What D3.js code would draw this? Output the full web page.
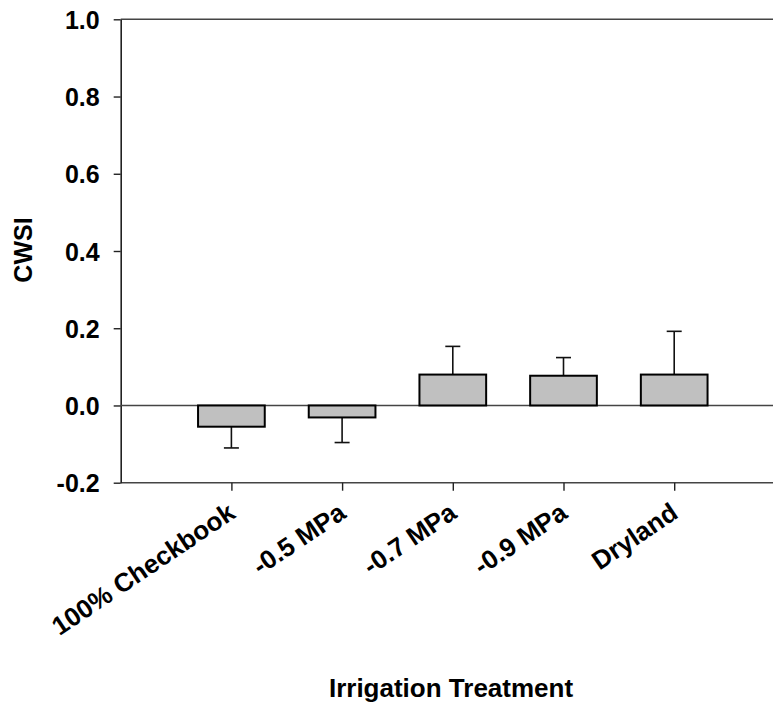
<!DOCTYPE html>
<html>
<head>
<meta charset="utf-8">
<script src="https://cdn.jsdelivr.net/npm/d3@7"></script>
<style>
  body { margin: 0; background: #fff; }
  text { font-family: "Liberation Sans", Arial, sans-serif; font-weight: bold; fill: #000; }
</style>
</head>
<body>
<script>
// CWSI by irrigation treatment
var categories = ['100% Checkbook', '-0.5 MPa', '-0.7 MPa', '-0.9 MPa', 'Dryland'];
var cwsi = [-0.055, -0.031, 0.080, 0.077, 0.080];
var stdErr = [0.055, 0.065, 0.073, 0.047, 0.112];
var yTicks = [-0.2, 0.0, 0.2, 0.4, 0.6, 0.8, 1.0];

var chartProps = {
  width: 773,
  height: 704,
  left: 120.7,
  top: 19.3,
  bottom: 482.7,
  step: 110.7
};

var svg = d3.select('body').append('svg')
            .attr('width', chartProps.width)
            .attr('height', chartProps.height);

var y = d3.scaleLinear().domain([-0.2, 1.0]).range([chartProps.bottom, chartProps.top]);
var x = d3.scalePoint().domain(categories)
          .range([chartProps.left + chartProps.step, chartProps.left + 5 * chartProps.step]);

var barWidth = 66.7;
var capWidth = 15;

// plain hyphen minus like the original
var fmt = function(d) { return d.toFixed(1); };

// frame lines (top + bottom)
svg.append('line')
   .attr('x1', chartProps.left).attr('x2', chartProps.width)
   .attr('y1', chartProps.top).attr('y2', chartProps.top)
   .attr('stroke', '#444').attr('stroke-width', 1.6);

svg.append('line')
   .attr('x1', chartProps.left).attr('x2', chartProps.width)
   .attr('y1', chartProps.bottom).attr('y2', chartProps.bottom)
   .attr('stroke', '#444').attr('stroke-width', 1.6);

var yAxis = svg.append('g')
   .attr('transform', 'translate(' + chartProps.left + ',0)')
   .call(d3.axisLeft(y).tickValues(yTicks).tickFormat(fmt).tickSize(7).tickSizeOuter(0).tickPadding(14));
yAxis.select('.domain').attr('stroke', '#222').attr('stroke-width', 1.6);
yAxis.selectAll('line').attr('stroke', '#222').attr('stroke-width', 1.4);
yAxis.selectAll('text').style('font-size', '25px').attr('dy', '0.36em');

var xAxis = svg.append('g')
   .attr('transform', 'translate(0,' + chartProps.bottom + ')')
   .call(d3.axisBottom(x).tickSize(8).tickSizeOuter(0));
xAxis.select('.domain').remove();
xAxis.selectAll('line').attr('stroke', '#222').attr('stroke-width', 1.4);
xAxis.selectAll('text')
     .style('font-size', '26px')
     .attr('text-anchor', 'end')
     .attr('y', 0).attr('dy', 0)
     .attr('transform', 'translate(5,34) rotate(-34)');

// zero line
svg.append('line')
   .attr('x1', chartProps.left).attr('x2', chartProps.width)
   .attr('y1', y(0)).attr('y2', y(0))
   .attr('stroke', '#444').attr('stroke-width', 1.6);

// error bars (one-sided, away from zero)
var errs = categories.map(function(c, i) {
  var end = cwsi[i] < 0 ? cwsi[i] - stdErr[i] : cwsi[i] + stdErr[i];
  return {cat: c, v: cwsi[i], end: end};
});

svg.selectAll('.err').data(errs).enter().append('line')
   .attr('class', 'err')
   .attr('x1', function(d) { return x(d.cat); })
   .attr('x2', function(d) { return x(d.cat); })
   .attr('y1', function(d) { return y(d.v); })
   .attr('y2', function(d) { return y(d.end); })
   .attr('stroke', '#111').attr('stroke-width', 1.6);

svg.selectAll('.cap').data(errs).enter().append('line')
   .attr('class', 'cap')
   .attr('x1', function(d) { return x(d.cat) - capWidth / 2; })
   .attr('x2', function(d) { return x(d.cat) + capWidth / 2; })
   .attr('y1', function(d) { return y(d.end); })
   .attr('y2', function(d) { return y(d.end); })
   .attr('stroke', '#111').attr('stroke-width', 1.6);

// bars
svg.selectAll('.bar').data(errs).enter().append('rect')
   .attr('class', 'bar')
   .attr('x', function(d) { return x(d.cat) - barWidth / 2; })
   .attr('y', function(d) { return Math.min(y(d.v), y(0)); })
   .attr('width', barWidth)
   .attr('height', function(d) { return Math.abs(y(d.v) - y(0)); })
   .attr('fill', '#c0c0c0')
   .attr('stroke', '#000').attr('stroke-width', 2);

// axis titles
svg.append('text')
   .attr('x', 451).attr('y', 697)
   .attr('text-anchor', 'middle')
   .style('font-size', '26px')
   .text('Irrigation Treatment');

svg.append('text')
   .attr('transform', 'translate(32,250) rotate(-90)')
   .attr('text-anchor', 'middle')
   .style('font-size', '25px')
   .text('CWSI');
</script>
</body>
</html>
